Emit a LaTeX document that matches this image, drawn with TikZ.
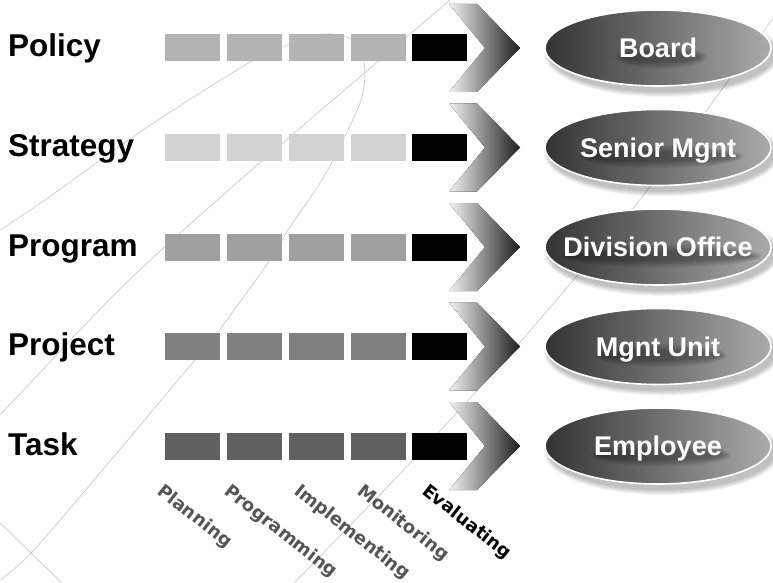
\documentclass[tikz,border=0pt]{standalone}
\usepackage{fontspec}
\setmainfont{Liberation Sans}
\newfontfamily\dejavu{DejaVu Sans}
\usetikzlibrary{shapes.geometric}
\definecolor{cP}{HTML}{B4B4B4}
\definecolor{cS}{HTML}{D2D2D2}
\definecolor{cG}{HTML}{A0A0A0}
\definecolor{cJ}{HTML}{808080}
\definecolor{cT}{HTML}{606060}
\definecolor{phasegray}{HTML}{555555}
\begin{document}
\begin{tikzpicture}[x=1pt,y=-1pt,
  bgline/.style={draw=black!20, line width=0.7pt},
  cell/.style={rectangle, minimum width=55pt, minimum height=27pt, inner sep=0pt, draw=none},
  rowlbl/.style={anchor=base west, inner sep=0pt, font=\fontsize{31.5}{36}\selectfont\bfseries},
  phase/.style={anchor=base west, inner sep=0pt, rotate=-38, font=\dejavu\fontsize{18}{22}\selectfont\bfseries, text=phasegray},
  chev/.style={left color=black!5, right color=black!88},
  oval/.style={ellipse, minimum width=226pt, minimum height=76pt, inner sep=0pt, draw=white, line width=1.6pt, left color=black!80, right color=black!33},
  ovtext/.style={inner sep=0pt, text height=19.5pt, text depth=0pt, font=\fontsize{27}{32}\selectfont\bfseries, text=white},
]
\useasboundingbox (0,0) rectangle (773,583);
\fill[white] (0,0) rectangle (773,583);

% background guide lines
\draw[bgline] plot[smooth, tension=0.55] coordinates {(0,230) (45,200) (143,130) (250,62) (283,47) (312,36) (332,34) (352,40) (364,62) (362,97) (343,140) (322,180) (290,227) (270,260) (217,333) (178,380) (100,473) (32,552) (0,580)};
\draw[bgline] plot[smooth, tension=0.5] coordinates {(450,0) (375,64) (240,180) (127,282) (33,380) (0,415)};
\draw[bgline] plot[smooth, tension=0.5] coordinates {(780,8) (653,183) (522,340) (413,460) (294,583)};
\draw[bgline] (0,523) -- (62,583);

\foreach \y/\c/\lbl/\who/\hw [count=\i] in {48/cP/Policy/Board/38, 147.5/cS/Strategy/Senior Mgnt/74, 247/cG/Program/Division Office/92, 346.5/cJ/Project/Mgnt Unit/58, 446/cT/Task/Employee/62} {
  \node[rowlbl] (lbl\i) at (8,{\y+9}) {\lbl};
  \foreach \x [count=\j] in {192.5,254.5,316.5,378.5}
    \node[cell, fill=\c] (c\i-\j) at (\x,\y) {};
  \node[cell, fill=black] (c\i-5) at (439.5,\y) {};
  \fill[chev] (449,{\y-44}) -- (477,{\y-44}) -- (520,\y) -- (477,{\y+44}) -- (449,{\y+44}) -- (485,\y) -- cycle;
  \foreach \s in {1,...,6}
    \fill[black, opacity=0.045] (662,{\y+6}) ellipse ({112+\s} and {37+\s});
  \node[oval] (e\i) at (658,\y) {};
  \foreach \s in {0,...,4}
    \fill[black, opacity=0.07] (661,{\y+9}) ellipse ({\hw+2*\s} and {5+1.6*\s});
  \node[ovtext] (t\i) at (e\i.center) {\who};
}

\node[phase] (ph1) at (156,493) {Planning};
\node[phase] (ph2) at (223,493) {Programming};
\node[phase] (ph3) at (293,493) {Implementing};
\node[phase] (ph4) at (356,493) {Monitoring};
\node[phase, text=black] (ph5) at (421,493) {Evaluating};
\end{tikzpicture}
\end{document}
